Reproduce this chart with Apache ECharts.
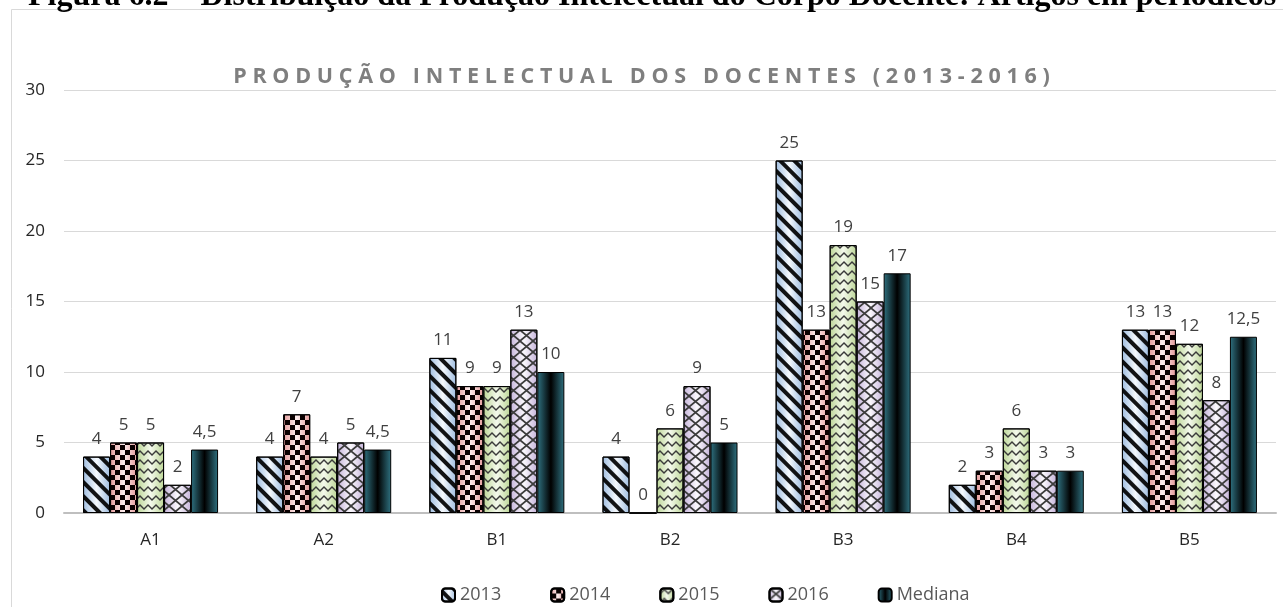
<!DOCTYPE html>
<html>
<head>
<meta charset="utf-8">
<script src="https://cdn.jsdelivr.net/npm/echarts@6/dist/echarts.min.js"></script>
<style>
  html, body { margin: 0; padding: 0; background: #fff; }
  #chart { width: 1283px; height: 607px; }
</style>
</head>
<body>
<div id="chart"></div>
<script>
// dados
var categorias = ['A1', 'A2', 'B1', 'B2', 'B3', 'B4', 'B5'];
var anos = ['2013', '2014', '2015', '2016', 'Mediana'];
var v2013 = [4, 4, 11, 4, 25, 2, 13];
var v2014 = [5, 7, 9, 0, 13, 3, 13];
var v2015 = [5, 4, 9, 6, 19, 6, 12];
var v2016 = [2, 5, 13, 9, 15, 3, 8];
var mediana = [4.5, 4.5, 10, 5, 17, 3, 12.5];
var yTicks = [0, 30, 5];

var titulo = 'PRODUÇÃO INTELECTUAL DOS DOCENTES (2013-2016)';
var legenda = 'Figura 6.2 – Distribuição da Produção Intelectual do Corpo Docente: Artigos em periódicos';

function grad(borda, meio) {
  return new echarts.graphic.LinearGradient(0, 0, 1, 0, [
    { offset: 0, color: borda },
    { offset: 0.5, color: meio },
    { offset: 1, color: borda }
  ]);
}

var estilos = [
  { color: grad('#9fbde0', '#f5f9fd'),
    decal: { symbol: 'rect', symbolSize: 1, dashArrayX: [1, 0], dashArrayY: [4, 6], rotation: Math.PI / 4, color: 'rgba(0,0,0,0.92)' } },
  { color: grad('#e39a9a', '#fdeeee'),
    decal: { symbol: 'rect', symbolSize: 1, dashArrayX: [[5, 5], [0, 5, 5, 0]], dashArrayY: [5, 0], color: '#0a0000' } },
  { color: grad('#bcd696', '#f4f9ec'),
    decal: { symbol: 'path://M0,4 L4,0 L8,4 L8,6 L4,2 L0,6 Z', symbolSize: 1, symbolKeepAspect: false, dashArrayX: [8, 0], dashArrayY: [6, 3], color: '#3a3a3a' } },
  { color: grad('#c5b3da', '#fbf9fd'),
    decal: { symbol: 'path://M0,0 L1.2,0 L12,8.8 L12,10 L10.8,10 L0,1.2 Z M10.8,0 L12,0 L12,1.2 L1.2,10 L0,10 L0,8.8 Z', symbolSize: 1, symbolKeepAspect: false, dashArrayX: [13, 0], dashArrayY: [11, 0], color: '#3c3c3c' } },
  { color: grad('#2f7281', '#000000'), decal: null }
];

var dados = [v2013, v2014, v2015, v2016, mediana];

var series = anos.map(function (nome, i) {
  var st = { color: estilos[i].color, borderColor: '#000', borderWidth: 1 };
  if (estilos[i].decal) st.decal = estilos[i].decal;
  return {
    name: nome,
    type: 'bar',
    data: dados[i],
    barWidth: 27,
    barGap: '0%',
    itemStyle: st,
    label: {
      show: true,
      position: 'top',
      distance: 9,
      color: '#404040',
      fontFamily: '"Open Sans"',
      fontSize: 17,
      formatter: function (p) { return String(p.value).replace('.', ','); }
    }
  };
});

var chart = echarts.init(document.getElementById('chart'));
chart.setOption({
  animation: false,
  backgroundColor: '#fff',
  title: {
    text: titulo.split('').join('\u2009\u200A'),
    left: 'center',
    top: 61,
    textStyle: { fontFamily: '"Open Sans"', fontWeight: 'bold', fontSize: 21.5, color: '#7f7f7f' }
  },
  graphic: [
    { type: 'rect', z: -10, shape: { x: 11.5, y: 9.5, width: 1300, height: 700 },
      style: { fill: 'none', stroke: '#d9d9d9', lineWidth: 1 } },
    { type: 'text', x: 28, y: -3, z: 10,
      style: { text: legenda, font: 'bold 32px "Liberation Serif"', fill: '#000', textVerticalAlign: 'middle' } }
  ],
  legend: {
    data: anos,
    left: 436,
    top: 581,
    itemWidth: 13,
    itemHeight: 13,
    itemGap: 49,
    textStyle: { color: '#595959', fontFamily: '"Open Sans"', fontSize: 18 }
  },
  grid: { left: 64, right: 7, top: 90, bottom: 94, containLabel: false },
  xAxis: {
    type: 'category',
    data: categorias,
    axisLine: { lineStyle: { color: '#bfbfbf', width: 2 } },
    axisTick: { show: false },
    axisLabel: { color: '#262626', fontFamily: '"Open Sans"', fontSize: 17, margin: 19 }
  },
  yAxis: {
    type: 'value',
    min: yTicks[0],
    max: yTicks[1],
    interval: yTicks[2],
    axisLine: { show: false },
    axisTick: { show: false },
    splitLine: { lineStyle: { color: '#d9d9d9', width: 1 } },
    axisLabel: { color: '#262626', fontFamily: '"Open Sans"', fontSize: 17, margin: 19 }
  },
  series: series
});
</script>
</body>
</html>
